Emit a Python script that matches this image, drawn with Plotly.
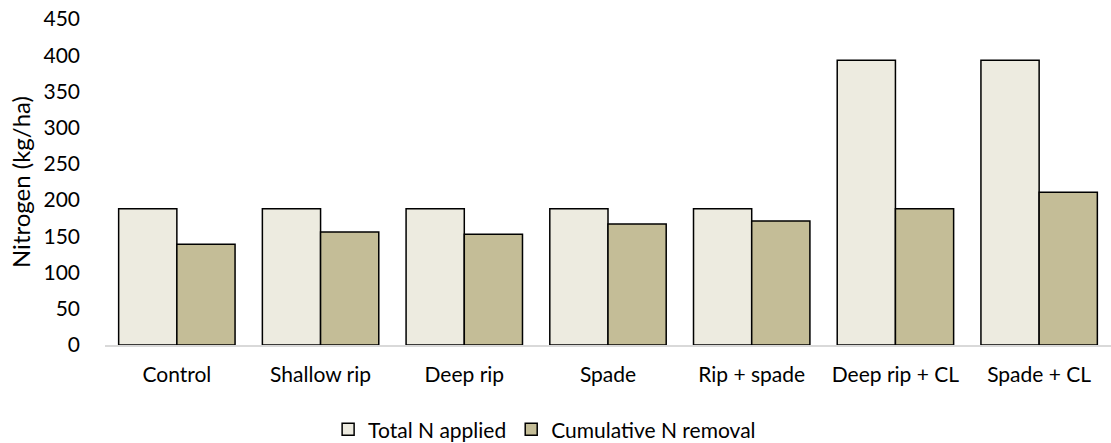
import plotly.graph_objects as go

categories = ["Control", "Shallow rip", "Deep rip", "Spade", "Rip + spade", "Deep rip + CL", "Spade + CL"]
total_n_applied = [188, 188, 188, 188, 188, 393, 393]
cumulative_n_removal = [139, 156, 153, 167, 171, 188, 211]
y_ticks = [0, 50, 100, 150, 200, 250, 300, 350, 400, 450]

FONT = "Lato, 'Open Sans', sans-serif"

fig = go.Figure()
fig.add_trace(go.Bar(
    x=categories, y=total_n_applied, name="Total N applied",
    marker=dict(color="#EDEBE0", line=dict(color="#000000", width=1.5)),
))
fig.add_trace(go.Bar(
    x=categories, y=cumulative_n_removal, name="Cumulative N removal",
    marker=dict(color="#C4BD97", line=dict(color="#000000", width=1.5)),
))

fig.update_layout(
    width=1111, height=443,
    margin=dict(l=105, r=0, t=19, b=98, autoexpand=False),
    paper_bgcolor="white", plot_bgcolor="white",
    barmode="group", bargap=0.19, bargroupgap=0,
    font=dict(family=FONT, size=21, color="#000000"),
    legend=dict(orientation="h", x=0.437, xanchor="center",
                yref="container", y=0.03, yanchor="middle",
                font=dict(size=21), itemwidth=30, traceorder="normal"),
    showlegend=True,
    xaxis=dict(showgrid=False, showline=True, linecolor="#d9d9d9", linewidth=1.5,
               ticks="", ticklabelstandoff=10, tickfont=dict(size=21), automargin=False),
    yaxis=dict(range=[0, 450], tickvals=y_ticks, showgrid=False, zeroline=False,
               showline=False, ticks="", ticklabelstandoff=24, tickfont=dict(size=21),
               automargin=False,
               title=dict(text="Nitrogen (kg/ha)", font=dict(size=24), standoff=6)),
)

fig.write_html(
    "out.html",
    config={"displayModeBar": False},
    post_script="document.body.style.margin='0';document.body.style.overflow='hidden';",
)
